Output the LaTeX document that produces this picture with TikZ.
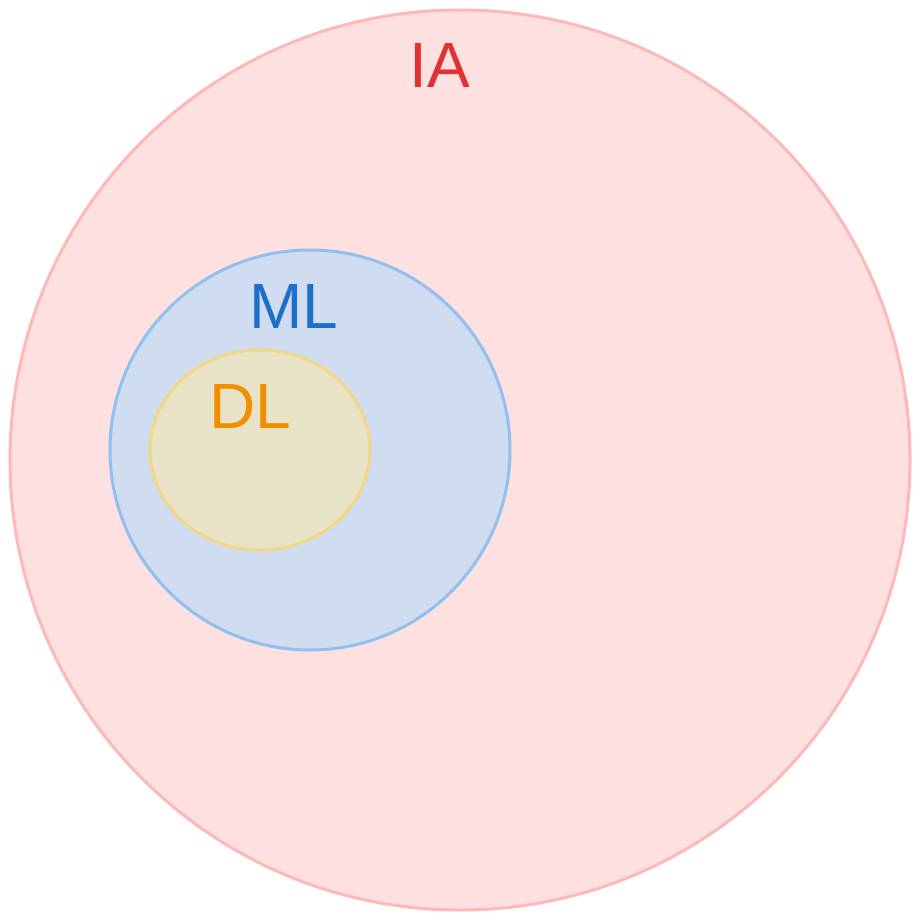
\documentclass[tikz,border=0pt]{standalone}
\usepackage{fontspec}
\setmainfont{Liberation Sans}
\definecolor{iafill}{HTML}{FFE0E0}
\definecolor{iadraw}{HTML}{FFB8B8}
\definecolor{iatext}{HTML}{E03232}
\definecolor{mlfill}{HTML}{D0DDF1}
\definecolor{mldraw}{HTML}{90C0F0}
\definecolor{mltext}{HTML}{1E6FC8}
\definecolor{dlfill}{HTML}{E8E3C6}
\definecolor{dldraw}{HTML}{F2D886}
\definecolor{dltext}{HTML}{F09000}
\begin{document}
\begin{tikzpicture}[x=1pt,y=-1pt,
  setshape/.style={line width=3pt},
  setlabel/.style={inner sep=0pt, anchor=center}]
\useasboundingbox (0,0) rectangle (920,920);
\fill[white] (0,0) rectangle (920,920);
\draw[setshape, fill=iafill, draw=iadraw] (460,460) circle [radius=450];
\draw[setshape, fill=mlfill, draw=mldraw] (310,450) circle [radius=200];
\draw[setshape, fill=dlfill, draw=dldraw] (260,450) ellipse [x radius=110, y radius=100];
\node[setlabel, text=iatext, font=\fontsize{64}{64}\selectfont] (ia) at (440,65) {\vphantom{I}IA};
\node[setlabel, text=mltext, font=\fontsize{64}{64}\selectfont] (ml) at (294,306) {\vphantom{M}ML};
\node[setlabel, text=dltext, font=\fontsize{64}{64}\selectfont] (dl) at (250,406) {DL};
\end{tikzpicture}
\end{document}
